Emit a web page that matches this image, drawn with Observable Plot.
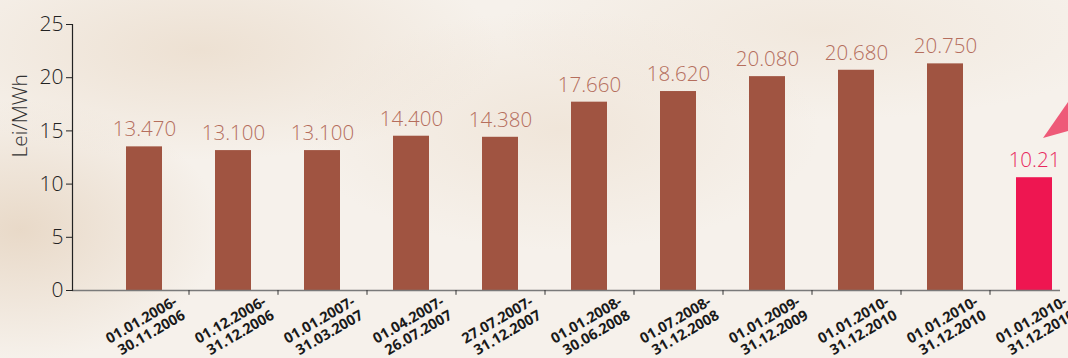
<!DOCTYPE html>
<html>
<head>
<meta charset="utf-8">
<script src="https://cdn.jsdelivr.net/npm/d3@7"></script>
<script src="https://cdn.jsdelivr.net/npm/@observablehq/plot@0.6"></script>
<style>
  html, body { margin: 0; padding: 0; width: 1068px; height: 358px; overflow: hidden; }
  body {
    background:
      radial-gradient(ellipse 300px 110px at 200px 50px, rgba(234,219,202,0.75), rgba(234,219,202,0) 100%),
      radial-gradient(ellipse 260px 120px at 560px 130px, rgba(236,222,206,0.6), rgba(236,222,206,0) 100%),
      radial-gradient(ellipse 200px 130px at 20px 230px, rgba(230,213,194,0.85), rgba(230,213,194,0) 100%),
      radial-gradient(ellipse 320px 90px at 820px 30px, rgba(238,226,212,0.6), rgba(238,226,212,0) 100%),
      #f6f1eb;
    position: relative;
  }
  #chart svg { background: transparent !important; display: block; }
  #deco { position: absolute; left: 0; top: 0; pointer-events: none; }
</style>
</head>
<body>
<div id="chart"></div>
<svg id="deco" width="1068" height="358"><polygon points="1043,138 1068,102 1068,131" fill="#ee5a78"/></svg>
<script>
const periods = [
  "01.01.2006-\n30.11.2006",
  "01.12.2006-\n31.12.2006",
  "01.01.2007-\n31.03.2007",
  "01.04.2007-\n26.07.2007",
  "27.07.2007-\n31.12.2007",
  "01.01.2008-\n30.06.2008",
  "01.07.2008-\n31.12.2008",
  "01.01.2009-\n31.12.2009",
  "01.01.2010-\n31.12.2010",
  "01.01.2010-\n31.12.2010",
  "01.01.2010-\n31.12.2010"
];
const barValues = [13.5, 13.15, 13.15, 14.5, 14.4, 17.7, 18.7, 20.1, 20.7, 21.3, 10.6];
const valueLabels = ["13.470", "13.100", "13.100", "14.400", "14.380", "17.660", "18.620", "20.080", "20.680", "20.750", "10.21"];
const highlighted = [false, false, false, false, false, false, false, false, false, false, true];
const yTicks = [0, 5, 10, 15, 20, 25];

const data = periods.map((p, i) => ({i, period: p, value: barValues[i], label: valueLabels[i], hi: highlighted[i]}));
const boundaries = data.slice(0, -1);

const brown = "#a05441";
const pink = "#ee1651";

const chart = Plot.plot({
  width: 1068,
  height: 358,
  marginLeft: 72,
  marginRight: 8,
  marginTop: 24,
  marginBottom: 68,
  style: {background: "transparent", overflow: "visible"},
  x: {type: "band", domain: data.map(d => d.i), range: [98.5, 1078.5], paddingInner: 0.6, paddingOuter: 0.3, axis: null},
  y: {domain: [0, 25], axis: null},
  marks: [
    Plot.barY(data, {x: "i", y: "value", fill: d => d.hi ? pink : brown}),
    Plot.text(data, {x: "i", y: "value", text: "label", dy: -17, fill: d => d.hi ? "#e8285e" : "#b56e5d",
      fontSize: 20.5, fontFamily: "Open Sans", fontWeight: 300}),
    Plot.ruleY([0], {stroke: "#7a7a7a", strokeWidth: 1.5}),
    Plot.ruleX(boundaries, {x: "i", dx: 44.5, y1: () => 0, y2: () => -0.45, stroke: "#333", strokeWidth: 1}),
    Plot.axisY({ticks: yTicks, tickSize: 6, tickPadding: 3, fontSize: 21, fontFamily: "Open Sans", fontWeight: 300, color: "#222", label: null}),
    Plot.frame({anchor: "left", stroke: "#222", strokeWidth: 1.2}),
    Plot.text(["Lei/MWh"], {frameAnchor: "left", dx: -52, rotate: -90, fontSize: 21, fontFamily: "Open Sans", fontWeight: 300, fill: "#333"}),
    Plot.text(data, {x: "i", y: () => 0, text: "period", dx: 28, dy: 4, rotate: -30, textAnchor: "end", lineAnchor: "top",
      lineHeight: 1.1, fontSize: 14.5, fontFamily: "Open Sans", fontWeight: 700, fill: "#1a1a1a"})
  ]
});
document.getElementById("chart").appendChild(chart);
</script>
</body>
</html>
